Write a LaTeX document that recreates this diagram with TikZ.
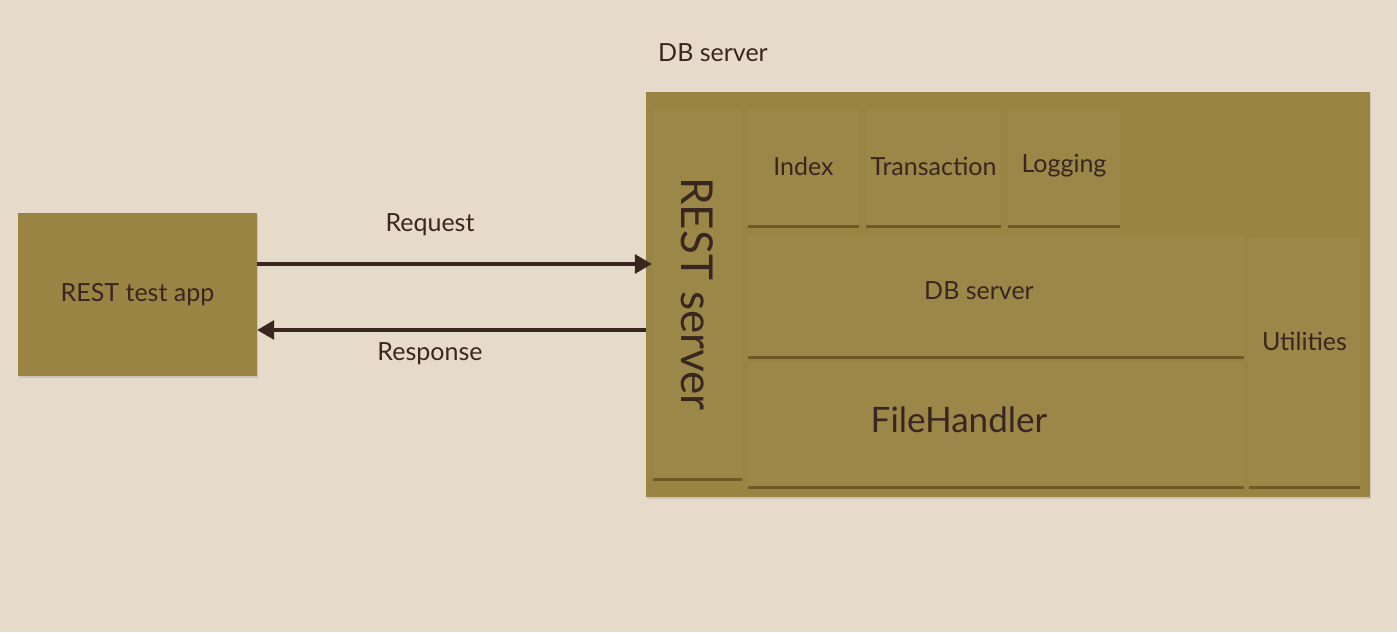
\documentclass[tikz,border=0pt]{standalone}
\usepackage{fontspec}
\setmainfont{Lato}
\usetikzlibrary{shadows,arrows.meta,calc}
\definecolor{bg}{HTML}{E6DBCB}
\definecolor{olive}{HTML}{998444}
\definecolor{olivein}{HTML}{9B8747}
\definecolor{ink}{HTML}{3A2620}
\definecolor{shade}{HTML}{4A3A10}
\tikzset{
  box/.style={fill=olive, draw=none, inner sep=0pt, text=ink, font=\fontsize{25}{28}\selectfont},
  inbox/.style={fill=olivein, draw=none, inner sep=0pt, text=ink,
    drop shadow={shadow xshift=0pt, shadow yshift=-3pt, opacity=0.55, fill=shade},
    font=\fontsize{25}{28}\selectfont},
  lbl/.style={text=ink, font=\fontsize{25}{28}\selectfont, inner sep=0pt},
  arr/.style={draw=ink, line width=3.4pt, -{Triangle[length=17pt,width=19pt]}},
}
\begin{document}
\begin{tikzpicture}[x=1pt,y=-1pt]
\fill[bg] (0,0) rectangle (1397,632);
\useasboundingbox (0,0) rectangle (1397,632);
% left app
\node[box, minimum width=239pt, minimum height=163pt, drop shadow={shadow xshift=1pt, shadow yshift=-2pt, opacity=0.25}] (app) at (137.5,294.5) {REST test app};
% container
\node[box, minimum width=724pt, minimum height=405pt, drop shadow={shadow xshift=1pt, shadow yshift=-2pt, opacity=0.25}] (cont) at (1008,294.5) {};
\node[lbl] (title) at (713,53) {DB server};
% REST server column
\node[inbox, minimum width=89pt, minimum height=368pt] (rest) at (697.5,294) {};
\node[lbl, rotate=-90, font=\fontsize{44}{48}\selectfont] (resttxt) at (rest.center) {REST server};
% top modules
\node[inbox, minimum width=111pt, minimum height=115pt] (index) at (803.5,167.5) {};
\node[lbl] (indextxt) at (803.5,166) {Index};
\node[inbox, minimum width=135pt, minimum height=115pt] (trans) at (933.5,167.5) {};
\node[lbl] (transtxt) at (933.5,166) {Transaction};
\node[inbox, minimum width=112pt, minimum height=115pt] (logg) at (1064,167.5) {};
\node[lbl] (loggtxt) at (1064,166) {Logging};
% DB server inner
\node[inbox, minimum width=496pt, minimum height=122pt] (db) at (996,295) {};
\node[lbl] (dbtxt) at (979,291) {DB server};
% FileHandler
\node[inbox, minimum width=496pt, minimum height=123pt] (fh) at (996,424.5) {};
\node[lbl, font=\fontsize{35}{38}\selectfont] (fhtxt) at (959,420) {FileHandler};
% Utilities
\node[inbox, minimum width=111pt, minimum height=249pt] (util) at (1304.5,361.5) {};
\node[lbl] (utiltxt) at (1304.5,341) {Utilities};
% arrows
\coordinate (reqS) at (app.east |- 0,264);
\coordinate (reqE) at ($(rest.west |- 0,264)+(-1,0)$);
\coordinate (resS) at (cont.west |- 0,330);
\coordinate (resE) at (app.east |- 0,330);
\draw[arr] (reqS) -- (reqE);
\draw[arr] (resS) -- (resE);
\node[lbl] (reqlbl) at (430,225) {Request};
\node[lbl] (reslbl) at (430,354) {Response};
\end{tikzpicture}
\end{document}
